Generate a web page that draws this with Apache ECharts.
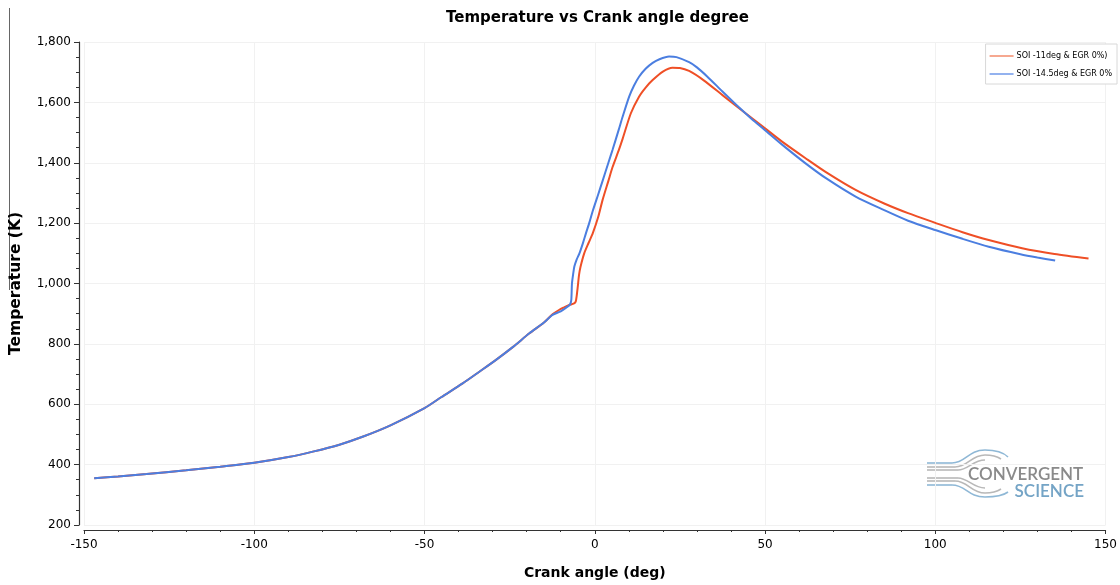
<!DOCTYPE html>
<html>
<head>
<meta charset="utf-8">
<script src="https://cdn.jsdelivr.net/npm/echarts@6/dist/echarts.min.js"></script>
<style>
html,body{margin:0;padding:0;background:#fff;}
#chart{width:1120px;height:585px;}
</style>
</head>
<body>
<div id="chart"></div>
<script>
// ---- data ----
var titleText = 'Temperature vs Crank angle degree';
var xAxisName = 'Crank angle (deg)';
var yAxisName = 'Temperature (K)';
var seriesNames = ['SOI -11deg & EGR 0%)', 'SOI -14.5deg & EGR 0%'];

var angleA = [-147, -140, -131.6, -120, -110, -100, -90, -82.8, -75, -68, -60, -50, -45, -38.8, -34, -29, -24, -19.2, -15, -12.4,
  -10.4, -9, -7.5, -6.2, -5.6, -5.3, -5.0, -4.6, -4.2, -3.1, -1.8, -0.6, 1, 2.3, 4, 5.2, 7, 8.2, 10.6, 13, 15, 17, 20, 22.8, 25, 27.7,
  32, 37.5, 42, 46, 50, 55, 61.9, 68, 76.6, 85, 92, 100, 108, 115.7, 125.5, 135, 145];
var tempA = [355, 361, 369, 381, 393, 406, 425, 443, 466, 493, 530, 587, 624, 669, 707, 747, 790, 835, 870, 898,
  913, 921, 929, 933, 940, 960, 989, 1030, 1055, 1100, 1135, 1166, 1220, 1277, 1340, 1385, 1440, 1480, 1564, 1619, 1650, 1674, 1702, 1715, 1714, 1704,
  1673, 1624, 1584, 1549, 1514, 1470, 1415, 1368, 1310, 1265, 1233, 1201, 1170, 1144, 1117, 1098, 1083];

var angleB = [-147, -140, -131.6, -120, -110, -100, -90, -82.8, -75, -68, -60, -50, -45, -38.8, -34, -29, -24, -19.2, -15, -12.4,
  -10, -8.4, -7.3, -6.9, -6.7, -6.3, -6.0, -5.3, -4.5, -3.5, -2.6, -1.5, -0.6, 1, 2.3, 4, 5.2, 7, 8.2, 10.1, 11.5, 13, 15, 17, 19, 21.8, 24, 27.7,
  30, 33, 37.5, 42, 46, 50, 55, 61.9, 68, 76.6, 85, 92, 100, 108, 115.7, 125, 130, 135.2];
var tempB = [355, 361, 369, 381, 393, 406, 425, 443, 466, 493, 530, 587, 624, 669, 707, 747, 790, 835, 870, 896,
  908, 920, 930, 945, 1000, 1035, 1056, 1080, 1100, 1133, 1166, 1205, 1240, 1295, 1340, 1400, 1442, 1508, 1553, 1619, 1655, 1685, 1712, 1731, 1743, 1752, 1750, 1733,
  1716, 1686, 1636, 1587, 1546, 1508, 1460, 1398, 1348, 1288, 1243, 1208, 1177, 1148, 1122, 1097, 1086, 1076];

var colorA = '#ef4f26';
var colorB = '#4b7ee0';

function pairs(xs, ys) { return xs.map(function (x, i) { return [x, ys[i]]; }); }

// logo pieces
var logoStrokes = [];
function hline(x1, x2, y, c) {
  logoStrokes.push({ type: 'line', shape: { x1: x1, y1: y, x2: x2, y2: y }, style: { stroke: c, lineWidth: 1.6 }, silent: true });
}
function bez(x1, y1, c1x, c1y, c2x, c2y, x2, y2, c) {
  logoStrokes.push({ type: 'bezierCurve', shape: { x1: x1, y1: y1, cpx1: c1x, cpy1: c1y, cpx2: c2x, cpy2: c2y, x2: x2, y2: y2 }, style: { stroke: c, lineWidth: 1.6, fill: null }, silent: true });
}
var lb = '#8fb8d6', lg = '#b8b8b8';
hline(927, 952, 463, lb); bez(952, 463, 966, 463, 968, 450, 985, 450, lb); bez(985, 450, 997, 450, 1004, 453, 1008, 457, lb);
hline(927, 955, 467, lg); bez(955, 467, 968, 467, 971, 455, 985, 455, lg); bez(985, 455, 993, 455, 998, 457, 1001, 459, lg);
hline(927, 958, 470, lg); bez(958, 470, 968, 470, 973, 460, 985, 460, lg);
hline(927, 958, 478, lg); bez(958, 478, 968, 478, 973, 488, 985, 488, lg);
hline(927, 955, 481, lg); bez(955, 481, 968, 481, 971, 493, 985, 493, lg); bez(985, 493, 993, 493, 998, 491, 1001, 489, lg);
hline(927, 952, 485, lb); bez(952, 485, 966, 485, 968, 497, 985, 497, lb); bez(985, 497, 997, 497, 1004, 495, 1008, 492, lb);

var chart = echarts.init(document.getElementById('chart'), null, { renderer: 'canvas' });
chart.setOption({
  backgroundColor: '#ffffff',
  animation: false,
  title: {
    text: titleText, left: 441, top: 6,
    textStyle: { fontFamily: 'DejaVu Sans', fontWeight: 'bold', fontSize: 15, color: '#000' }
  },
  legend: {
    orient: 'vertical', right: 3, top: 44,
    backgroundColor: '#fff', borderColor: '#d8d8d8', borderWidth: 1,
    padding: [8, 5, 6, 4], itemGap: 10,
    itemWidth: 24, itemHeight: 2, icon: 'rect',
    textStyle: { fontFamily: 'DejaVu Sans', fontSize: 8, color: '#000', padding: [0, 0, 0, -2] },
    data: [
      { name: seriesNames[0], itemStyle: { color: '#f6a890' } },
      { name: seriesNames[1], itemStyle: { color: '#93b2ef' } }
    ]
  },
  grid: { left: 83, right: 13, top: 42, bottom: 60, containLabel: false },
  xAxis: {
    type: 'value', min: -150, max: 150, interval: 50, offset: 5,
    name: xAxisName, nameLocation: 'middle', nameGap: 36,
    nameTextStyle: { fontFamily: 'DejaVu Sans', fontWeight: 'bold', fontSize: 14, color: '#000' },
    axisLine: { show: true, onZero: false, lineStyle: { color: '#333', width: 1.2 } },
    axisTick: { show: true, length: 4, lineStyle: { color: '#333' } },
    minorTick: { show: true, splitNumber: 5, length: 2, lineStyle: { color: '#333' } },
    axisLabel: { margin: 9, fontFamily: 'DejaVu Sans', fontSize: 12, color: '#000' },
    splitLine: { show: true, lineStyle: { color: '#f1f1f1', width: 1 } }
  },
  yAxis: {
    type: 'value', min: 200, max: 1800, interval: 200, offset: 5,
    name: yAxisName, nameLocation: 'middle', nameGap: 55,
    nameTextStyle: { fontFamily: 'DejaVu Sans', fontWeight: 'bold', fontSize: 15.5, color: '#000' },
    axisLine: { show: true, onZero: false, lineStyle: { color: '#333', width: 1.2 } },
    axisTick: { show: true, length: 5, lineStyle: { color: '#333' } },
    minorTick: { show: true, splitNumber: 4, length: 3, lineStyle: { color: '#333' } },
    axisLabel: {
      margin: 8, fontFamily: 'DejaVu Sans', fontSize: 12, color: '#000',
      formatter: function (v) { return v.toLocaleString('en-US'); }
    },
    splitLine: { show: true, lineStyle: { color: '#f1f1f1', width: 1 } }
  },
  series: [
    {
      name: seriesNames[0], type: 'line', data: pairs(angleA, tempA),
      showSymbol: false, smooth: 0.25, z: 2,
      lineStyle: { color: colorA, width: 2 }, itemStyle: { color: colorA }
    },
    {
      name: seriesNames[1], type: 'line', data: pairs(angleB, tempB),
      showSymbol: false, smooth: 0.25, z: 3,
      lineStyle: { color: colorB, width: 2 }, itemStyle: { color: colorB }
    }
  ],
  graphic: [
    { type: 'line', shape: { x1: 9.5, y1: 8, x2: 9.5, y2: 290 }, style: { stroke: '#666', lineWidth: 1 }, silent: true },
    { type: 'group', silent: true, children: logoStrokes.concat([
      { type: 'text', x: 968, y: 475, style: { text: 'CONVERGENT', fill: '#8a8a8a', font: '600 17px Lato', textVerticalAlign: 'middle', textAlign: 'left' } },
      { type: 'text', x: 1084, y: 492, style: { text: 'SCIENCE', fill: '#74a4c6', font: '600 17px Lato', textVerticalAlign: 'middle', textAlign: 'right' } }
    ]) }
  ]
});
</script>
</body>
</html>
